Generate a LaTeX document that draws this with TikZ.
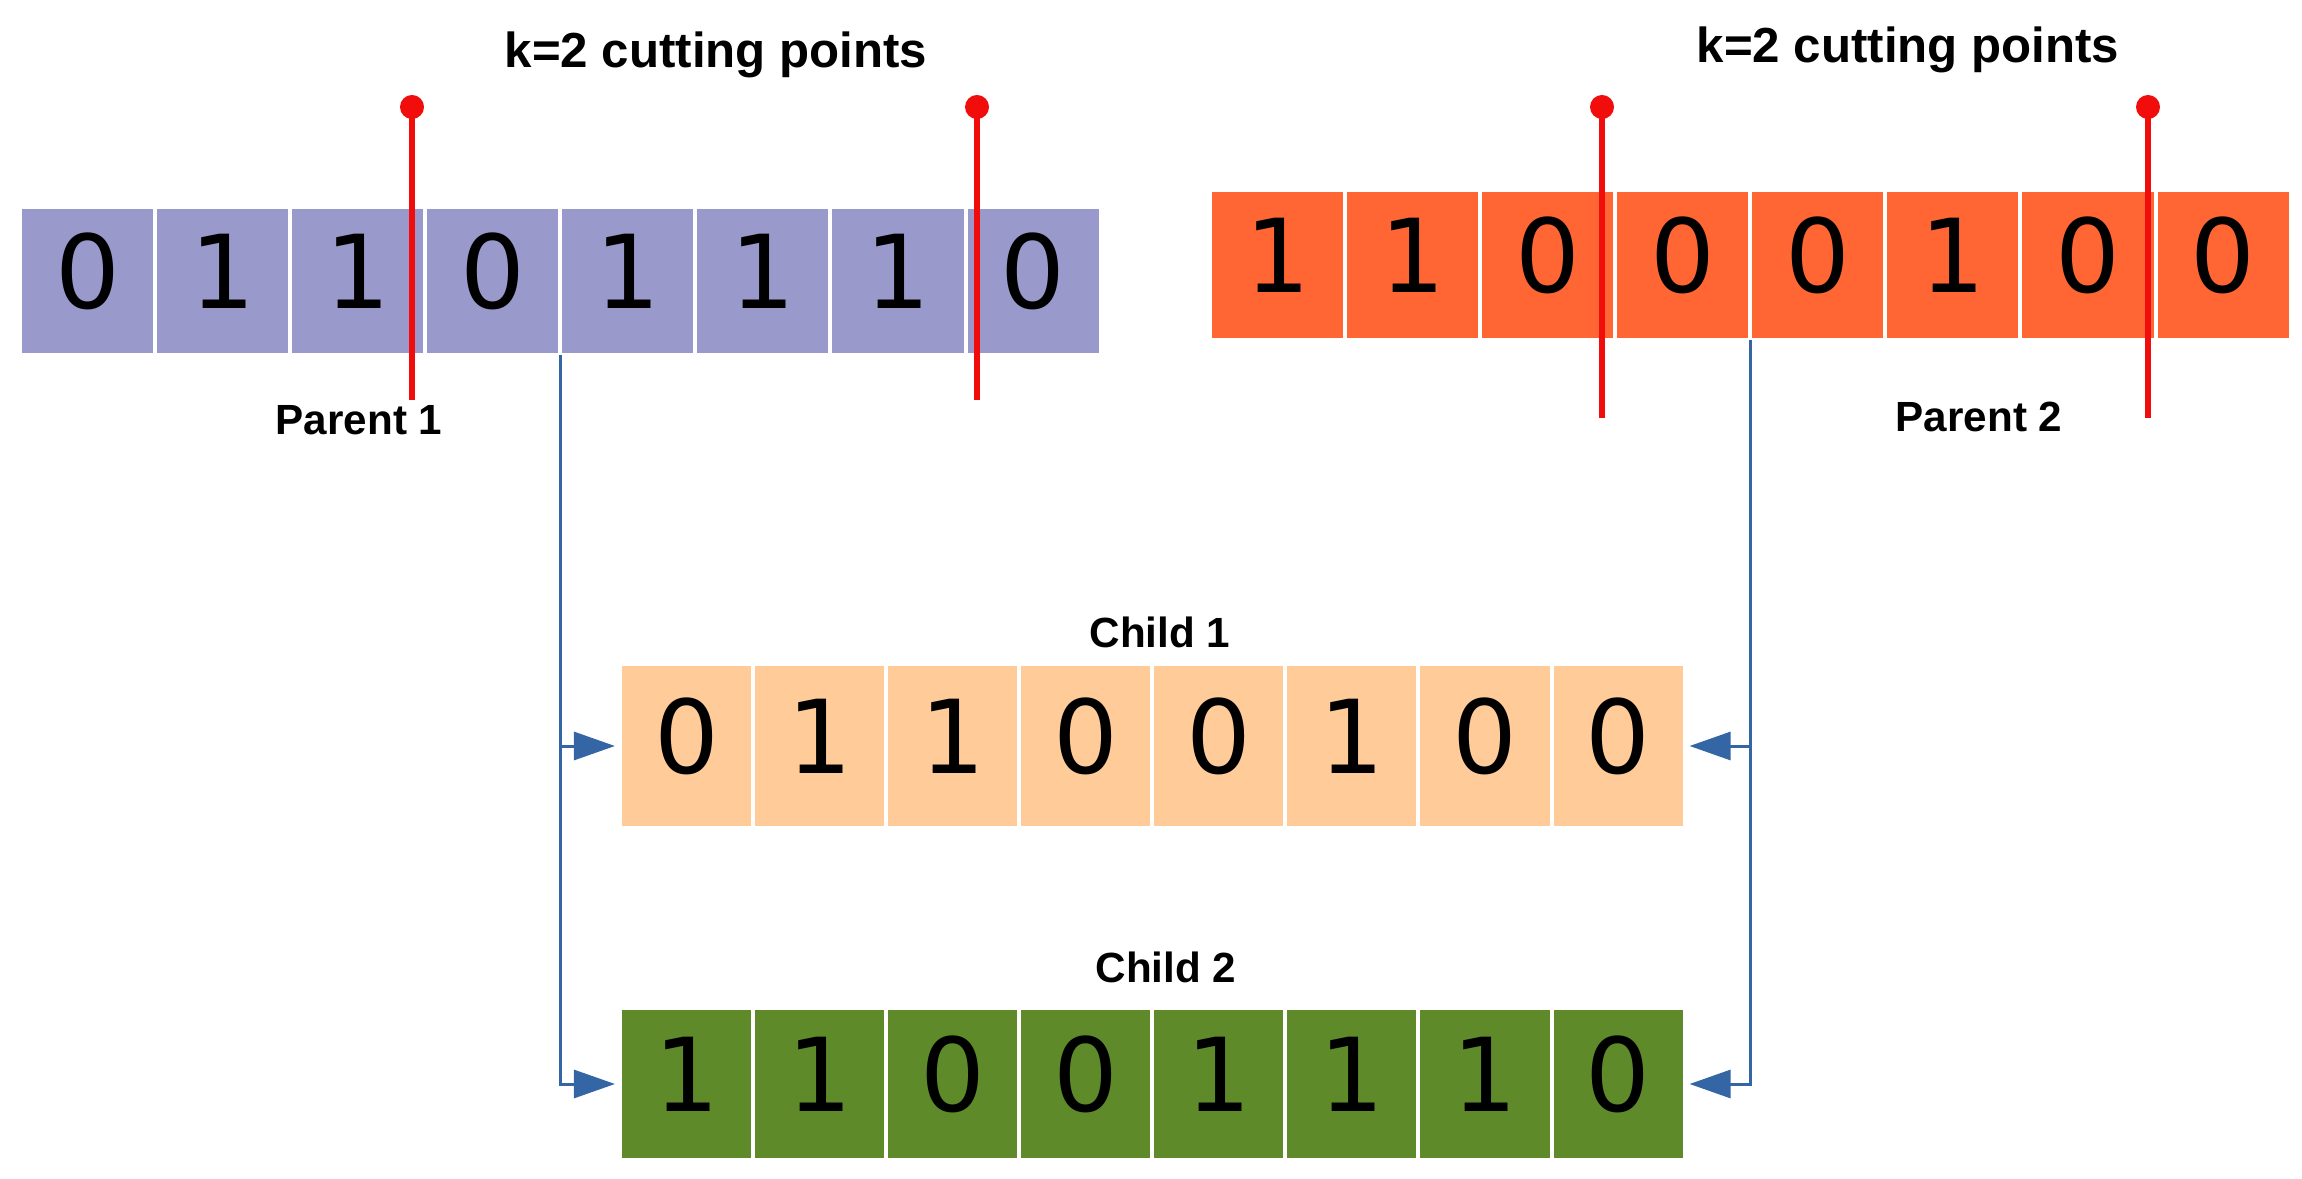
\documentclass[tikz,border=0pt]{standalone}
\usepackage{fontspec}
\setmainfont{Liberation Sans}
\newfontfamily\digitfont{DejaVu Sans}
\usepackage{tikz}
\usetikzlibrary{arrows.meta}

\definecolor{parentone}{HTML}{9999CC}
\definecolor{parenttwo}{HTML}{FF6633}
\definecolor{childone}{HTML}{FFCC99}
\definecolor{childtwo}{HTML}{5E8A2A}
\definecolor{cutred}{HTML}{F20D0D}
\definecolor{linkblue}{HTML}{3465A4}

\begin{document}
\begin{tikzpicture}[x=0.01cm,y=-0.01cm,>={Triangle[length=4.1mm,width=2.8mm]},
                    semithick]
\tikzset{font=\fontsize{12pt}{14}\selectfont\bfseries}
\tikzset{cell/.style={rectangle,draw=white,line width=0.4mm,inner sep=0pt,outer sep=0pt,
           text height=7.5mm,text depth=2mm,font=\digitfont\fontsize{29pt}{30}\selectfont}}
\tikzset{pone/.style={cell,fill=parentone,minimum width=1.35cm,minimum height=1.48cm,node distance=1.35cm}}
\tikzset{ptwo/.style={cell,fill=parenttwo,minimum width=1.35cm,minimum height=1.5cm,node distance=1.35cm}}
\tikzset{cone/.style={cell,fill=childone,minimum width=1.33cm,minimum height=1.64cm,node distance=1.33cm}}
\tikzset{ctwo/.style={cell,fill=childtwo,minimum width=1.33cm,minimum height=1.52cm,node distance=1.33cm}}
\tikzset{cutdot/.style={circle,fill=cutred,inner sep=0pt,minimum size=2.4mm}}
\tikzset{cut/.style={color=cutred,line width=0.6mm}}
\tikzset{link/.style={->,color=linkblue,line width=0.3mm,shorten >=0.5mm}}
\tikzset{elbow/.style={to path={|- (\tikztotarget)}}}

        \useasboundingbox (0,0) rectangle (2302,1179);

        % parent 1
        \node[pone]                (a1)   at (87.5,281)          {0};
        \node[pone]                (a2)   [right of=a1]          {1};
        \node[pone]                (a3)   [right of=a2]          {1};
        \node[pone]                (a4)   [right of=a3]          {0};
        \node[pone]                (a5)   [right of=a4]          {1};
        \node[pone]                (a6)   [right of=a5]          {1};
        \node[pone]                (a7)   [right of=a6]          {1};
        \node[pone]                (a8)   [right of=a7]          {0};

        % parent 2
        \node[ptwo]                (b1)   at (1277.5,265)        {1};
        \node[ptwo]                (b2)   [right of=b1]          {1};
        \node[ptwo]                (b3)   [right of=b2]          {0};
        \node[ptwo]                (b4)   [right of=b3]          {0};
        \node[ptwo]                (b5)   [right of=b4]          {0};
        \node[ptwo]                (b6)   [right of=b5]          {1};
        \node[ptwo]                (b7)   [right of=b6]          {0};
        \node[ptwo]                (b8)   [right of=b7]          {0};

        % child 1
        \node[cone]                (c1)   at (686.5,746)         {0};
        \node[cone]                (c2)   [right of=c1]          {1};
        \node[cone]                (c3)   [right of=c2]          {1};
        \node[cone]                (c4)   [right of=c3]          {0};
        \node[cone]                (c5)   [right of=c4]          {0};
        \node[cone]                (c6)   [right of=c5]          {1};
        \node[cone]                (c7)   [right of=c6]          {0};
        \node[cone]                (c8)   [right of=c7]          {0};

        % child 2
        \node[ctwo]                (d1)   at (686.5,1084)        {1};
        \node[ctwo]                (d2)   [right of=d1]          {1};
        \node[ctwo]                (d3)   [right of=d2]          {0};
        \node[ctwo]                (d4)   [right of=d3]          {0};
        \node[ctwo]                (d5)   [right of=d4]          {1};
        \node[ctwo]                (d6)   [right of=d5]          {1};
        \node[ctwo]                (d7)   [right of=d6]          {1};
        \node[ctwo]                (d8)   [right of=d7]          {0};

        \node[anchor=base,font=\fontsize{14pt}{16}\selectfont\bfseries]  (k1)  at (716,68)   {k=2 cutting points};
        \node[anchor=base,font=\fontsize{14pt}{16}\selectfont\bfseries]  (k2)  at (1908,63)  {k=2 cutting points};
        \node[anchor=base]         (P1)   at (359,435)           {Parent 1};
        \node[anchor=base]         (P2)   at (1979,432)          {Parent 2};
        \node[anchor=base]         (C1)   at (1160,647)          {Child 1};
        \node[anchor=base]         (C2)   at (1166,982)          {Child 2};

        % cutting points
        \node[cutdot]              (t1)   at (412,107)           {};
        \node[cutdot]              (t2)   at (977,107)           {};
        \node[cutdot]              (t3)   at (1602,107)          {};
        \node[cutdot]              (t4)   at (2148,107)          {};
        \coordinate                (u1)   at (412,400);
        \coordinate                (u2)   at (977,400);
        \coordinate                (u3)   at (1602,418);
        \coordinate                (u4)   at (2148,418);

        \path[cut]
        (t1.center)   edge            (u1)
        (t2.center)   edge            (u2)
        (t3.center)   edge            (u3)
        (t4.center)   edge            (u4)
        ; %end path

        \path[link]
        (a4.south east)   edge[elbow]     (c1.west)
        (a4.south east)   edge[elbow]     (d1.west)
        (b4.south east)   edge[elbow]     (c8.east)
        (b4.south east)   edge[elbow]     (d8.east)
        ; %end path

\end{tikzpicture}
\end{document}
